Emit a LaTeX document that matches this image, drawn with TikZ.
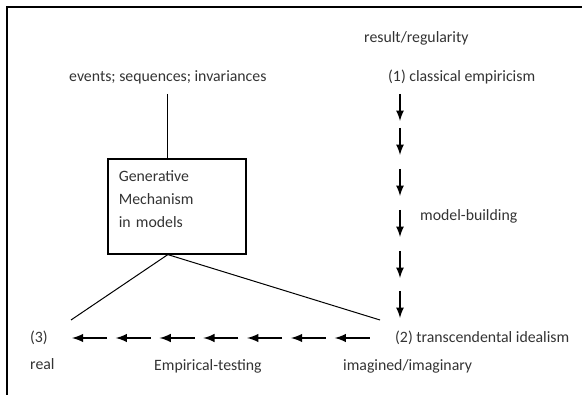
\documentclass[tikz,border=0pt]{standalone}
\usepackage{fontspec}
\setmainfont{Carlito}
\usetikzlibrary{arrows,positioning,calc}

\begin{document}
\begin{tikzpicture}[x=1pt, y=-1pt, >=latex, font=\fontsize{15.8}{23}\selectfont]
	\tikzstyle{every node}=[inner sep=0pt, text=black!80]
	\tikzstyle{txt}=[anchor=west]
	\tikzstyle{box}=[draw, line width=1.6pt, anchor=north west, align=left,
		text width=116pt, inner xsep=11pt, inner ysep=0pt]
	\tikzstyle{chain}=[->, line width=2.5pt]
	\useasboundingbox (0,0) rectangle (582,395);
	% frame
	\draw[line width=2pt] (7,395) -- (7,7) -- (582,7);
	% % Nodes
	% top labels
	\node[txt](result) at (364,38) {result/regularity};
	\node[txt](events) at (69,77) {events; sequences; invariances};
	\node[txt](empiric) at (388,77) {(1) classical empiricism};
	% generative mechanism
	\node[box](mech) at (107,158)
	{
		\rule{0pt}{23pt}Generative \\
		Mechanism \\
		in models\rule[-26pt]{0pt}{26pt}
	};
	\node[txt](building) at (420,216) {model-building};
	% bottom labels
	\node[txt](three) at (30,338) {(3)};
	\node[txt, below=13pt of three.south west, anchor=north west](real) {real};
	\node[txt](ideal) at (395,338) {(2) transcendental idealism};
	\node[txt](testing) at (154,366) {Empirical-testing};
	\node[txt](imagined) at (343,366) {imagined/imaginary};
	% free ends
	\coordinate (realend) at (71,320);
	\coordinate (idealend) at (380,320);
	\coordinate (hleft) at (72,338);
	\coordinate (hright) at (378.6,338);
	% % Connectors
	\draw[line width=1.2pt] (events.south) ++(0,10) -- (events.south |- mech.north);
	\draw[line width=1pt] (realend) -- (events.south |- mech.south) -- (idealend);
	\foreach \s in {94,128,169,210,251,291}
		\draw[chain] (400,\s) -- ++(0,27);
	\foreach \i in {0,...,6}
		\draw[chain, line width=2.8pt] ($(hleft)!\i/7!(hright)+(35,0)$) -- ($(hleft)!\i/7!(hright)$);
\end{tikzpicture}
\end{document}
